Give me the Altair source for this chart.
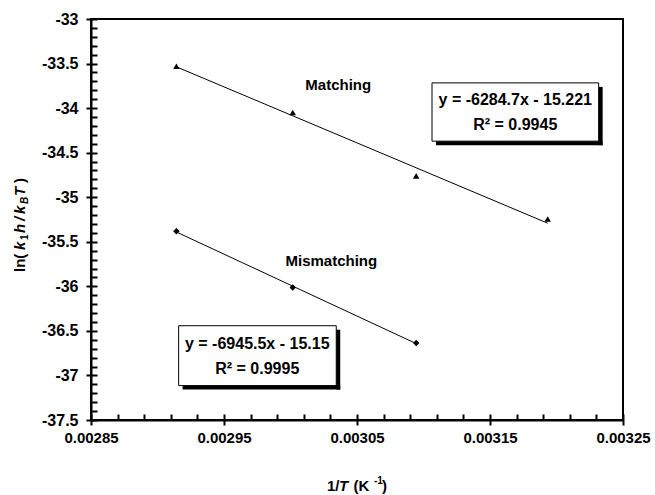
import altair as alt
import pandas as pd

# ---- data ----
series_names = ["Matching", "Mismatching"]
inv_T_match = [0.0029142, 0.0030017, 0.0030945, 0.0031934]
ln_match = [-33.53, -34.05, -34.76, -35.245]
inv_T_mis = [0.0029142, 0.0030017, 0.0030945]
ln_mis = [-35.382, -36.014, -36.635]

y_ticks = [-37.5, -37, -36.5, -36, -35.5, -35, -34.5, -34, -33.5, -33]
y_minor = [round(-37.5 + 0.1 * i, 1) for i in range(46)]
x_ticks = [0.00285, 0.00295, 0.00305, 0.00315, 0.00325]
x_minor = [round(0.00285 + 0.00002 * i, 5) for i in range(21)]

# annotation boxes (equations)
box_x1 = [0.0031064, 0.0029159]
box_x2 = [0.0032317, 0.0030344]
box_y1 = [-33.717, -36.442]
box_y2 = [-34.371, -37.114]
eq_text = ["y = -6284.7x - 15.221", "R\u00b2 = 0.9945", "y = -6945.5x - 15.15", "R\u00b2 = 0.9995"]
eq_x = [0.003169, 0.003169, 0.002975, 0.002975]
eq_y = [-33.904, -34.195, -36.647, -36.927]
lab_text = ["Matching", "Mismatching"]
lab_x = [0.0030359, 0.0030307]
lab_y = [-33.741, -35.714]

FONT = "Liberation Sans"

df = pd.DataFrame({
    "x": inv_T_match + inv_T_mis,
    "y": ln_match + ln_mis,
    "series": [series_names[0]] * len(inv_T_match) + [series_names[1]] * len(inv_T_mis),
})
boxes = pd.DataFrame({"x1": box_x1, "x2": box_x2, "y1": box_y1, "y2": box_y2})
eqs = pd.DataFrame({"x": eq_x, "y": eq_y, "t": eq_text})
labs = pd.DataFrame({"x": lab_x, "y": lab_y, "t": lab_text})

xscale = alt.Scale(domain=[0.00285, 0.00325], nice=False, zero=False)
yscale = alt.Scale(domain=[-37.5, -33], nice=False, zero=False)

label_expr = "replace(format(datum.value, '~g'), '\u2212', '-')"
x_axis = alt.Axis(orient="bottom", values=x_ticks, labelExpr=label_expr, title=None, grid=False,
                  tickSize=5, tickWidth=2, tickColor="black", domainColor="black",
                  domainWidth=2, labelFont=FONT, labelFontSize=15, labelFontWeight="bold",
                  labelColor="black", labelPadding=5, labelFlush=False)
y_axis = alt.Axis(orient="left", values=y_ticks, labelExpr=label_expr, title=None, grid=False,
                  tickSize=5, tickWidth=2, tickColor="black", domainColor="black",
                  domainWidth=2, labelFont=FONT, labelFontSize=16, labelFontWeight="bold",
                  labelColor="black", labelPadding=8)
x_inner = alt.Axis(orient="bottom", offset=-6, values=x_minor, tickSize=6, tickWidth=2,
                   tickColor="black", labels=False, domain=False, grid=False, title=None)
y_inner = alt.Axis(orient="left", offset=-6, values=y_minor, tickSize=6, tickWidth=2,
                   tickColor="black", labels=False, domain=False, grid=False, title=None)


def X(f="x", axis=None):
    return alt.X(f"{f}:Q", scale=xscale, axis=axis)


def Y(f="y", axis=None):
    return alt.Y(f"{f}:Q", scale=yscale, axis=axis)


lines = alt.Chart(df).transform_regression(
    "x", "y", groupby=["series"]
).mark_line(color="black", strokeWidth=1).encode(x=X(), y=Y(), detail="series:N")

points = alt.Chart(df).mark_point(filled=True, color="black", size=42, opacity=1).encode(
    x=X(axis=x_axis), y=Y(axis=y_axis),
    shape=alt.Shape("series:N", scale=alt.Scale(domain=series_names,
                                                range=["triangle-up", "diamond"]), legend=None),
)

box = alt.Chart(boxes).mark_rect(fill="white", stroke="black", strokeWidth=1).encode(
    x=X("x1"), x2="x2:Q", y=Y("y1"), y2="y2:Q")

# drop shadow along the right and bottom edges (about 4 px)
shadow_v = alt.Chart(boxes).transform_calculate(
    rx="datum.x2 + 0.0000015", ry1="datum.y1 - 0.045", ry2="datum.y2 - 0.045",
).mark_rule(color="black", strokeWidth=4).encode(x=X("rx"), y=Y("ry1"), y2="ry2:Q")
shadow_h = alt.Chart(boxes).transform_calculate(
    hy="datum.y2 - 0.0224", hx1="datum.x1 + 0.000003", hx2="datum.x2 + 0.000003",
).mark_rule(color="black", strokeWidth=4).encode(y=Y("hy"), x=X("hx1"), x2="hx2:Q")

eq_marks = alt.Chart(eqs).mark_text(font=FONT, fontSize=16, fontWeight="bold", color="black",
                                    align="center", baseline="middle").encode(x=X(), y=Y(), text="t:N")
lab_marks = alt.Chart(labs).mark_text(font=FONT, fontSize=15, fontWeight="bold", color="black",
                                      align="center", baseline="middle").encode(x=X(), y=Y(), text="t:N")

inner = alt.Chart(df).mark_point(opacity=0).encode(
    x=X(axis=x_inner),
    y=Y(axis=y_inner),
)

one = pd.DataFrame({"d": [0]})


def piece(text, px, py, size=15, italic=False, angle=0):
    kw = dict(text=text, font=FONT, fontSize=size, fontWeight="bold", color="black",
              align="left", baseline="alphabetic")
    if italic:
        kw["fontStyle"] = "italic"
    if angle:
        kw["angle"] = angle
    return alt.Chart(one).mark_text(**kw).encode(x=alt.value(px), y=alt.value(py))


# y-axis title: ln(k1h/kBT), rotated
ytitle = [
    piece("ln(", -66, 253, 15, False, 270),
    piece("k", -66, 231, 15, True, 270),
    piece("1", -63, 221, 10, False, 270),
    piece("h", -66, 214, 15, True, 270),
    piece("/", -66, 202, 15, True, 270),
    piece("k", -66, 195, 15, True, 270),
    piece("B", -63, 185, 10, True, 270),
    piece("T", -66, 177, 15, True, 270),
    piece(")", -66, 164, 15, False, 270),
]
# x-axis title: 1/T (K^-1)
xtitle = [
    piece("1/", 236, 472, 15),
    piece("T", 248, 472, 15, True),
    piece("(K", 262.5, 472, 15),
    piece("-1", 283, 465, 10),
    piece(")", 291, 472, 15),
]

chart = alt.layer(
    box, inner, lines, points, lab_marks, eq_marks, shadow_v, shadow_h, *ytitle, *xtitle
).resolve_axis(x="independent", y="independent").properties(
    width=532, height=401,
    autosize=alt.AutoSizeParams(type="none"),
    padding={"left": 91, "top": 19, "right": 32, "bottom": 75},
    background="white",
).configure_view(stroke="black", strokeWidth=2)

chart.save("out.html", embed_options={"renderer": "svg", "actions": False})
